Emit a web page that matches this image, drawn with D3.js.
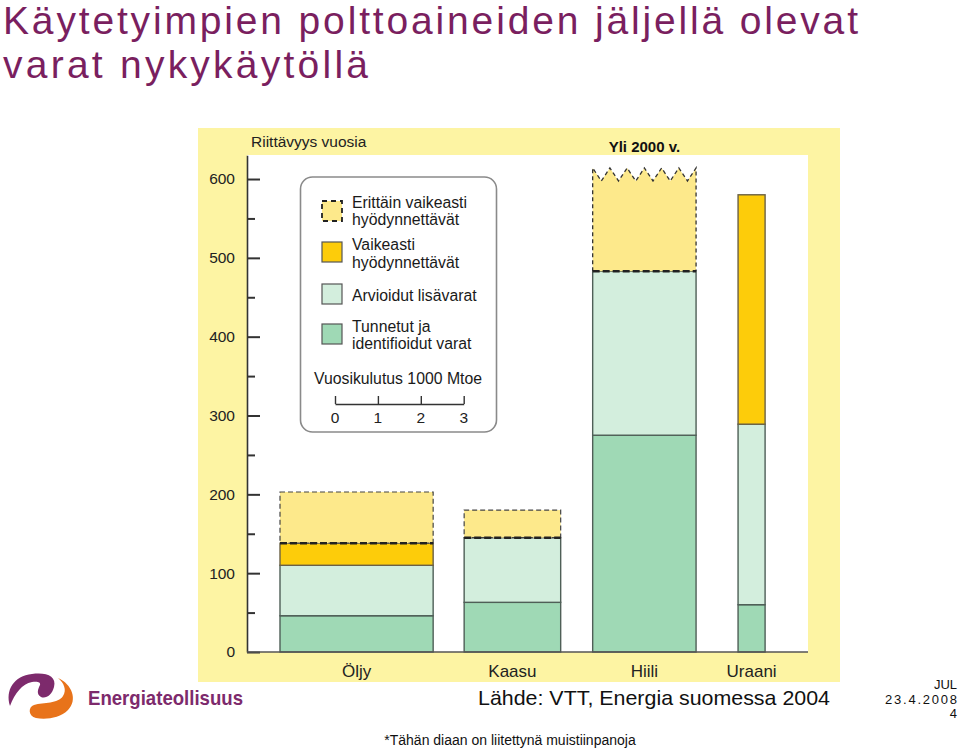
<!DOCTYPE html>
<html><head><meta charset="utf-8">
<script src="https://cdn.jsdelivr.net/npm/d3@7"></script>
<style>
html,body{margin:0;padding:0;background:#fff;}
svg{display:block;font-family:"Liberation Sans",Arial,Helvetica,sans-serif;}
</style></head>
<body>
<svg id="chart" width="960" height="749"></svg>
<script>
// ---------- data ----------
const categories = ["Öljy", "Kaasu", "Hiili", "Uraani"];
const consumption = [3.57, 2.25, 2.41, 0.63];          // vuosikulutus, 1000 Mtoe (bar width)
const known = [46, 63, 275, 60];                        // Tunnetut ja identifioidut varat
const estimated = [64, 82, 208, 229];                   // Arvioidut lisävarat
const difficult = [28, 0, 0, 291];                      // Vaikeasti hyödynnettävät
const veryDifficult = [65, 35, 131, 0];                 // Erittäin vaikeasti hyödynnettävät
const truncated = [false, false, true, false];          // Hiili: yli 2000 v.
const yTickValues = [0, 100, 200, 300, 400, 500, 600];
const yMinorValues = [50, 150, 250, 350, 450, 550];
const scaleTickValues = [0, 1, 2, 3];
const legendLabels = [
  ["Erittäin vaikeasti", "hyödynnettävät"],
  ["Vaikeasti", "hyödynnettävät"],
  ["Arvioidut lisävarat"],
  ["Tunnetut ja", "identifioidut varat"]
];
const titleLines = ["Käytetyimpien polttoaineiden jäljellä olevat", "varat nykykäytöllä"];

// ---------- layout / style ----------
const keys = ["known", "estimated", "difficult", "veryDifficult"];
const colors = {known: "#9fd9b5", estimated: "#d3eedd", difficult: "#fdcc0a", veryDifficult: "#fde98b"};
const panelFill = "#fdf4a3";
const gapsPx = [33, 31, 32, 42];
const axisX = 247, baseY = 652;
const font = '"Liberation Sans", Arial, Helvetica, sans-serif';

const svg = d3.select("#chart");

// title
const purple = "#7a1f5f";
svg.selectAll("text.title").data(titleLines).join("text")
  .attr("class", "title")
  .attr("x", 3).attr("y", (d, i) => 34 + i * 44)
  .attr("font-size", 39).attr("fill", purple)
  .attr("textLength", (d, i) => i === 0 ? 855 : 365)
  .attr("lengthAdjust", "spacing")
  .text(d => d);

// panel
svg.append("rect").attr("x", 198).attr("y", 128).attr("width", 642).attr("height", 554).attr("fill", panelFill);
svg.append("rect").attr("x", axisX).attr("y", 155).attr("width", 808 - axisX).attr("height", baseY - 155).attr("fill", "#fff");

// scales
const y = d3.scaleLinear().domain([0, 630]).range([baseY, baseY - 630 * 0.7883]);
const w = d3.scaleLinear().domain([0, 3]).range([0, 128.7]);

// table + stack
const table = categories.map((c, i) => ({
  cat: c, i, known: known[i], estimated: estimated[i], difficult: difficult[i], veryDifficult: veryDifficult[i]
}));
const series = d3.stack().keys(keys)(table);

// x positions from cumulative widths
const xStart = [];
let cur = axisX;
categories.forEach((c, i) => { cur += gapsPx[i]; xStart.push(cur); cur += w(consumption[i]); });

const gBars = svg.append("g");
series.forEach(s => {
  s.forEach((d, i) => {
    const v = d[1] - d[0];
    if (v <= 0) return;
    const x0 = xStart[i], x1 = x0 + w(consumption[i]);
    const yTop = y(d[1]), yBot = y(d[0]);
    if (s.key !== "veryDifficult") {
      gBars.append("rect").attr("x", x0).attr("y", yTop).attr("width", x1 - x0).attr("height", yBot - yTop)
        .attr("fill", colors[s.key]).attr("stroke", s.key === "difficult" ? "#6b6145" : "#4f5f57").attr("stroke-width", 1.4);
    } else {
      if (truncated[i]) {
        const n = 12, amp = 13;
        const pts = [[x0, yBot]];
        for (let k = 0; k <= n; k++) pts.push([x0 + k * (x1 - x0) / n, k % 2 === 0 ? yTop : yTop + amp]);
        pts.push([x1, yBot]);
        gBars.append("path").attr("d", d3.line()(pts) + "Z").attr("fill", colors[s.key]).attr("stroke", "none");
        gBars.append("path").attr("d", d3.line()(pts))
          .attr("fill", "none").attr("stroke", "#333").attr("stroke-width", 1.3).attr("stroke-dasharray", "4,3");
      } else {
        gBars.append("rect").attr("x", x0).attr("y", yTop).attr("width", x1 - x0).attr("height", yBot - yTop)
          .attr("fill", colors[s.key]).attr("stroke", "#444").attr("stroke-width", 1.2).attr("stroke-dasharray", "5,3");
      }
      gBars.append("line").attr("x1", x0).attr("x2", x1).attr("y1", yBot).attr("y2", yBot)
        .attr("stroke", "#222").attr("stroke-width", 2.4).attr("stroke-dasharray", "7,3");
    }
  });
});

// axes
const axisG = svg.append("g").attr("transform", `translate(${axisX},0)`);
axisG.call(d3.axisLeft(y).tickValues(yTickValues).tickSizeInner(-13).tickSizeOuter(0).tickPadding(12));
axisG.select(".domain").attr("stroke", "#333").attr("stroke-width", 1.6);
axisG.selectAll(".tick line").attr("stroke", "#333").attr("stroke-width", 2);
axisG.selectAll(".tick text").attr("font-family", font).attr("font-size", 15.5).attr("fill", "#222");
const minorG = svg.append("g").attr("transform", `translate(${axisX},0)`);
minorG.call(d3.axisLeft(y).tickValues(yMinorValues).tickSizeInner(-8).tickSizeOuter(0).tickFormat(""));
minorG.select(".domain").remove();
minorG.selectAll(".tick line").attr("stroke", "#333").attr("stroke-width", 2);

svg.append("line").attr("x1", axisX).attr("x2", 808).attr("y1", baseY).attr("y2", baseY)
  .attr("stroke", "#555").attr("stroke-width", 1.6);

// category labels
svg.selectAll("text.cat").data(categories).join("text").attr("class", "cat")
  .attr("x", (d, i) => xStart[i] + w(consumption[i]) / 2).attr("y", 677)
  .attr("text-anchor", "middle").attr("font-size", 17).attr("fill", "#222").text(d => d);

// header texts in panel
svg.append("text").attr("x", 251).attr("y", 147).attr("font-size", 15.5).attr("fill", "#222").text("Riittävyys vuosia");
svg.append("text").attr("x", xStart[2] + w(consumption[2]) / 2).attr("y", 152).attr("text-anchor", "middle")
  .attr("font-size", 15).attr("font-weight", "bold").attr("fill", "#111").text("Yli 2000 v.");

// legend
const lg = svg.append("g");
lg.append("rect").attr("x", 300.5).attr("y", 177).attr("width", 196).attr("height", 255).attr("rx", 12)
  .attr("fill", "#fff").attr("stroke", "#8a8a8a").attr("stroke-width", 1.6);
const legendKeys = ["veryDifficult", "difficult", "estimated", "known"];
const swatchY = [201, 242, 284, 324];
const textY = [[207.5, 225], [250, 267.5], [301], [331.5, 349]];
legendKeys.forEach((k, i) => {
  lg.append("rect").attr("x", 322).attr("y", swatchY[i]).attr("width", 20).attr("height", 20)
    .attr("fill", colors[k]).attr("stroke", k === "veryDifficult" ? "#222" : "#555")
    .attr("stroke-width", k === "veryDifficult" ? 1.8 : 1.2)
    .attr("stroke-dasharray", k === "veryDifficult" ? "5,4" : null);
  legendLabels[i].forEach((t, j) => {
    lg.append("text").attr("x", 352).attr("y", textY[i][j]).attr("font-size", 15.8).attr("fill", "#1a1a1a").text(t);
  });
});
lg.append("text").attr("x", 314).attr("y", 384).attr("font-size", 15.8).attr("fill", "#1a1a1a").text("Vuosikulutus 1000 Mtoe");
const sg = lg.append("g").attr("transform", "translate(335,404)");
sg.call(d3.axisTop(w).tickValues(scaleTickValues).tickSizeInner(8).tickSizeOuter(0).tickFormat(""));
sg.selectAll("path,line").attr("stroke", "#333").attr("stroke-width", 1.4);
sg.selectAll("text.sl").data(scaleTickValues).join("text").attr("class", "sl")
  .attr("x", d => w(d)).attr("y", 19).attr("text-anchor", "middle").attr("font-size", 15.5).attr("fill", "#222").text(d => d);

// logo
const lgp = svg.append("g");
lgp.append("path")
  .attr("d", "M10,706 C5,690 14,676 32,674 C46,672 57,676 54,687 C52,695 46,699 41,697 C36,694 38,689 40,685 C41,682 37,681 32,682 C22,684 15,693 10,706 Z")
  .attr("fill", "#7d2a6c");
lgp.append("path")
  .attr("d", "M58,678 C72,684 78,700 68,710 C60,718 46,720 36,718 C28,716 28,707 34,705 C44,702 58,704 63,696 C67,690 64,683 58,678 Z")
  .attr("fill", "#e8731a");
svg.append("text").attr("x", 88).attr("y", 705).attr("font-size", 21).attr("font-weight", "bold")
  .attr("fill", "#7d2a6c").attr("textLength", 155).attr("lengthAdjust", "spacingAndGlyphs").text("Energiateollisuus");

// footer
svg.append("text").attr("x", 478).attr("y", 705).attr("font-size", 21).attr("fill", "#111")
  .attr("textLength", 352).attr("lengthAdjust", "spacingAndGlyphs").text("Lähde: VTT, Energia suomessa 2004");
svg.append("text").attr("x", 957).attr("y", 689).attr("font-size", 13).attr("text-anchor", "end").attr("fill", "#111").text("JUL");
svg.append("text").attr("x", 885).attr("y", 704).attr("font-size", 13).attr("fill", "#111")
  .attr("textLength", 72).attr("lengthAdjust", "spacing").text("23.4.2008");
svg.append("text").attr("x", 957).attr("y", 718).attr("font-size", 13).attr("text-anchor", "end").attr("fill", "#111").text("4");
svg.append("text").attr("x", 510).attr("y", 745).attr("font-size", 14).attr("text-anchor", "middle").attr("fill", "#111")
  .text("*Tähän diaan on liitettynä muistiinpanoja");
</script>
</body></html>
